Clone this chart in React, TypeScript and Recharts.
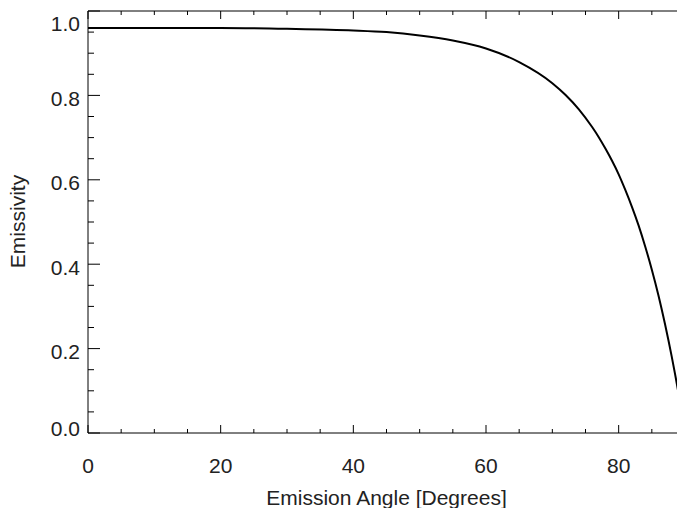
import React from 'react';
import { LineChart, Line, XAxis, YAxis } from 'recharts';

// Emission angle (degrees) and emissivity
const angles = [0, 10, 20, 30, 40, 45, 50, 55, 60, 65, 70, 72, 74, 76, 77, 78, 79, 80, 81, 82, 83, 84, 85, 86, 87, 88, 89, 90];
const emissivity = [0.96, 0.96, 0.96, 0.958, 0.954, 0.95, 0.942, 0.93, 0.911, 0.879, 0.829, 0.801, 0.767, 0.725, 0.701, 0.674, 0.645, 0.613, 0.576, 0.536, 0.492, 0.442, 0.387, 0.326, 0.257, 0.181, 0.096, 0.0];

const xTicks = [0, 5, 10, 15, 20, 25, 30, 35, 40, 45, 50, 55, 60, 65, 70, 75, 80, 85, 90];
const xMajor = [0, 20, 40, 60, 80];
const yTicks = [0, 0.05, 0.1, 0.15, 0.2, 0.25, 0.3, 0.35, 0.4, 0.45, 0.5, 0.55, 0.6, 0.65, 0.7, 0.75, 0.8, 0.85, 0.9, 0.95, 1.0];
const yMajor = [0, 0.2, 0.4, 0.6, 0.8, 1.0];

const xTitle = 'Emission Angle [Degrees]';
const yTitle = 'Emissivity';

const data = angles.map((a, i) => ({ angle: a, e: emissivity[i] }));

const FONT = '"Liberation Sans", Arial, Helvetica, sans-serif';
const TEXT = '#222';

const isMajorX = (v: number) => xMajor.some((m) => Math.abs(m - v) < 1e-6);
const isMajorY = (v: number) => yMajor.some((m) => Math.abs(m - v) < 1e-6);

const BottomTick = (props: any) => {
  const { x, y, payload } = props;
  const v = payload.value;
  const major = isMajorX(v);
  return (
    <g>
      <line x1={x} x2={x} y1={y} y2={y - (major ? 8 : 4)} stroke="#000" strokeWidth={1} />
      {major && (
        <text x={x} y={y + 39.5} textAnchor="middle" fontFamily={FONT} fontSize={21} fill={TEXT}>
          {v}
        </text>
      )}
    </g>
  );
};

const TopTick = (props: any) => {
  const { x, y, payload } = props;
  const major = isMajorX(payload.value);
  return <line x1={x} x2={x} y1={y} y2={y + (major ? 8 : 4)} stroke="#000" strokeWidth={1} />;
};

const LeftTick = (props: any) => {
  const { x, y, payload } = props;
  const v = payload.value;
  const major = isMajorY(v);
  let dy = 10.5;
  if (Math.abs(v - 1) < 1e-6) dy = 20;
  if (Math.abs(v) < 1e-6) dy = 2.5;
  return (
    <g>
      <line x1={x} x2={x + (major ? 12 : 6)} y1={y} y2={y} stroke="#000" strokeWidth={1} />
      {major && (
        <text x={x - 8} y={y + dy} textAnchor="end" fontFamily={FONT} fontSize={21} fill={TEXT}>
          {v.toFixed(1)}
        </text>
      )}
    </g>
  );
};

const RightTick = (props: any) => {
  const { x, y, payload } = props;
  const major = isMajorY(payload.value);
  return <line x1={x} x2={x - (major ? 12 : 6)} y1={y} y2={y} stroke="#000" strokeWidth={1} />;
};

export default function App() {
  return (
    <div style={{ position: 'absolute', left: 0, top: 0, width: 677, height: 508, overflow: 'hidden', background: '#fff' }}>
      <LineChart width={700} height={508} data={data} margin={{ top: 0, right: 0, bottom: 0, left: 0 }}>
        <XAxis
          dataKey="angle"
          type="number"
          domain={[0, 90]}
          ticks={xTicks}
          interval={0}
          height={75}
          tickSize={0}
          tickMargin={0}
          tick={BottomTick}
          axisLine={{ stroke: '#000', strokeWidth: 1 }}
          tickLine={false}
          label={{ value: xTitle, position: 'insideBottom', offset: 3, fontFamily: FONT, fontSize: 21, fill: TEXT }}
        />
        <XAxis
          xAxisId="top"
          orientation="top"
          dataKey="angle"
          type="number"
          domain={[0, 90]}
          ticks={xTicks}
          interval={0}
          height={11}
          tickSize={0}
          tickMargin={0}
          tick={TopTick}
          axisLine={{ stroke: '#000', strokeWidth: 1 }}
          tickLine={false}
        />
        <YAxis
          type="number"
          domain={[0, 1]}
          ticks={yTicks}
          interval={0}
          width={88}
          tickSize={0}
          tickMargin={0}
          tick={LeftTick}
          axisLine={{ stroke: '#000', strokeWidth: 1 }}
          tickLine={false}
          label={{
            value: yTitle,
            content: () => (
              <text
                transform="translate(25, 221.5) rotate(-90)"
                textAnchor="middle"
                fontFamily={FONT}
                fontSize={21}
                fill={TEXT}
              >
                {yTitle}
              </text>
            ),
          }}
        />
        <YAxis
          yAxisId="right"
          orientation="right"
          type="number"
          domain={[0, 1]}
          ticks={yTicks}
          interval={0}
          width={15}
          tickSize={0}
          tickMargin={0}
          tick={RightTick}
          axisLine={{ stroke: '#000', strokeWidth: 1 }}
          tickLine={false}
        />
        <Line
          type="monotone"
          dataKey="e"
          stroke="#000"
          strokeWidth={2}
          dot={false}
          isAnimationActive={false}
        />
      </LineChart>
    </div>
  );
}
